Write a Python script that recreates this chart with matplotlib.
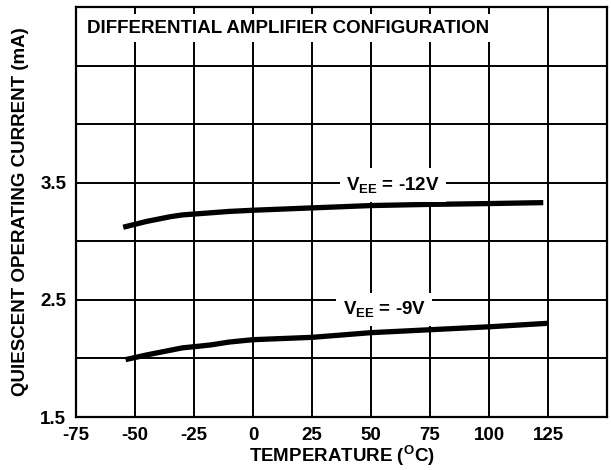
import numpy as np
import matplotlib
matplotlib.use("Agg")
import matplotlib.pyplot as plt

plt.rcParams['font.family'] = ['Liberation Sans', 'DejaVu Sans']
plt.rcParams['font.weight'] = 'bold'
plt.rcParams['mathtext.fontset'] = 'custom'
plt.rcParams['mathtext.rm'] = 'Liberation Sans:bold'
plt.rcParams['mathtext.it'] = 'Liberation Sans:bold'
plt.rcParams['mathtext.bf'] = 'Liberation Sans:bold'

# Data
temp_12v = [-55, -45, -35, -30, -20, -10, 0, 25, 50, 75, 100, 123]
curr_12v = [3.12, 3.17, 3.21, 3.225, 3.24, 3.255, 3.265, 3.285, 3.305, 3.315, 3.322, 3.33]

temp_9v = [-54, -45, -35, -30, -25, -18, -10, 0, 25, 50, 75, 100, 125]
curr_9v = [1.99, 2.03, 2.07, 2.09, 2.10, 2.115, 2.14, 2.16, 2.18, 2.22, 2.245, 2.27, 2.30]

x_ticks = [-75, -50, -25, 0, 25, 50, 75, 100, 125]
y_ticks = [1.5, 2.5, 3.5]

FS = 13.5

fig = plt.figure(figsize=(6.11, 4.70), dpi=100)
ax = fig.add_axes([76/611, 1 - 417/470, (607 - 76)/611, (417 - 7)/470])

ax.set_xlim(-75, 150)
ax.set_ylim(1.5, 5.0)

# Grid
for xv in np.arange(-50, 150, 25):
    ax.axvline(xv, color='k', lw=1.4, zorder=1)
for yv in np.arange(2.0, 5.0, 0.5):
    ax.axhline(yv, color='k', lw=1.4, zorder=1)

# Curves
ax.plot(temp_12v, curr_12v, color='k', lw=3.8, solid_capstyle='butt', zorder=3)
ax.plot(temp_9v, curr_9v, color='k', lw=3.8, solid_capstyle='butt', zorder=3)

ax.set_xticks(x_ticks)
ax.set_xticklabels([str(v) for v in x_ticks])
ax.set_yticks(y_ticks)
ax.set_yticklabels([str(v) for v in y_ticks])
ax.tick_params(length=0, labelsize=FS, pad=7)
ax.tick_params(axis='x', pad=7)
for lab in ax.get_xticklabels() + ax.get_yticklabels():
    lab.set_fontweight('bold')

for sp in ax.spines.values():
    sp.set_linewidth(1.6)
    sp.set_zorder(5)

ax.set_xlabel(r'TEMPERATURE ($^{\mathrm{O}}$C)', fontsize=FS, fontweight='bold', labelpad=0)
ax.set_ylabel('QUIESCENT OPERATING CURRENT (mA)', fontsize=FS, fontweight='bold', labelpad=8)

# Title box
ax.text(-70.5, 4.82, 'DIFFERENTIAL AMPLIFIER CONFIGURATION', fontsize=FS,
        fontweight='bold', ha='left', va='center', zorder=4,
        bbox=dict(boxstyle='square,pad=0.3', fc='white', ec='none'))

# Curve labels
ax.text(39.5, 3.48, r'$\mathrm{V_{EE}}$ = -12V', fontsize=FS, fontweight='bold',
        ha='left', va='center', zorder=4,
        bbox=dict(boxstyle='square,pad=0.35', fc='white', ec='none'))
ax.text(38, 2.42, r'$\mathrm{V_{EE}}$ = -9V', fontsize=FS, fontweight='bold',
        ha='left', va='center', zorder=4,
        bbox=dict(boxstyle='square,pad=0.35', fc='white', ec='none'))

fig.savefig('out.png', dpi=100)
